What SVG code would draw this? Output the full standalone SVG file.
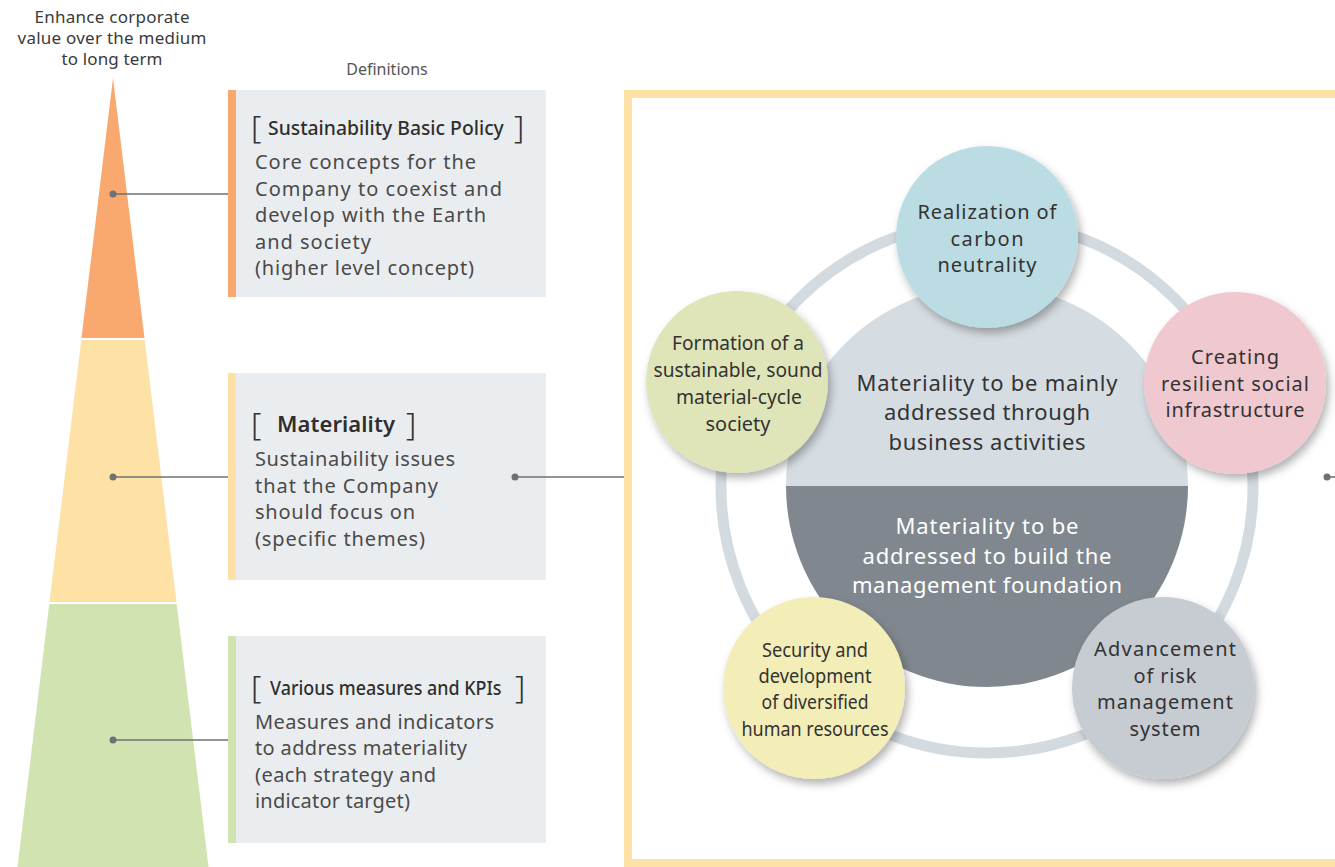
<svg xmlns="http://www.w3.org/2000/svg" width="1335" height="867" viewBox="0 0 1335 867">
<defs>
<style>
text{font-family:"Noto Sans","Open Sans","Liberation Sans",sans-serif;fill:#3a3a3a}
.top{font-size:17px;text-anchor:middle}
.def{font-size:16px;fill:#555;text-anchor:middle}
.brk{font-size:32px;font-weight:300;fill:#333}
.ttl{font-size:20px;font-weight:500;fill:#2f2f2f}
.ttl2{font-size:22px;font-weight:600;fill:#2f2f2f}
.body{font-size:20px;fill:#4a4a4a}
.c{font-size:20px;text-anchor:middle;fill:#333}
.cs{font-size:19px;text-anchor:middle;fill:#333}
.mid{font-size:22px;text-anchor:middle;fill:#333}
.midw{font-size:22px;text-anchor:middle;fill:#fff}
.box{fill:#eaedf0}
.ln{stroke:#6e7074;stroke-width:1.6;fill:none}
.dot{fill:#6e7074}
</style>
<filter id="sh" x="-20%" y="-20%" width="150%" height="150%">
<feDropShadow dx="3" dy="5" stdDeviation="4" flood-color="#000" flood-opacity="0.3"/>
</filter>
</defs>
<rect width="1335" height="867" fill="#fff"/>

<g id="goal">
<text class="top" x="112" y="23" textLength="155">Enhance corporate</text>
<text class="top" x="112" y="44" textLength="189">value over the medium</text>
<text class="top" x="112" y="65" textLength="101">to long term</text>
</g>

<g id="pyramid">
<polygon points="113,78 144.5,338 81.5,338" fill="#f9a86f"/>
<polygon points="81.3,340 144.7,340 176.5,602 49.5,602" fill="#fde1a5"/>
<polygon points="49.3,604 176.7,604 208.5,867 17.5,867" fill="#d0e3b0"/>
</g>

<text class="def" x="387" y="75">Definitions</text>

<g id="policy">
<rect class="box" x="228" y="90" width="318" height="207"/>
<rect x="228" y="90" width="8" height="207" fill="#f9a86f"/>
<text class="brk" x="251" y="138">[</text>
<text class="ttl" transform="translate(268,135) scale(0.88,1)" x="0" y="0" textLength="268" lengthAdjust="spacingAndGlyphs">Sustainability Basic Policy</text>
<text class="brk" x="514" y="138">]</text>
<text class="body" x="255" y="169" textLength="221">Core concepts for the</text>
<text class="body" x="255" y="196" textLength="247">Company to coexist and</text>
<text class="body" x="255" y="222" textLength="231">develop with the Earth</text>
<text class="body" x="255" y="249" textLength="116">and society</text>
<text class="body" x="255" y="275" textLength="219">(higher level concept)</text>
</g>

<g id="materiality">
<rect class="box" x="228" y="373" width="318" height="207"/>
<rect x="228" y="373" width="8" height="207" fill="#fde1a5"/>
<text class="brk" x="251" y="435">[</text>
<text class="ttl2" x="277" y="432" textLength="118">Materiality</text>
<text class="brk" x="406" y="435">]</text>
<text class="body" x="255" y="466" textLength="200">Sustainability issues</text>
<text class="body" x="255" y="493" textLength="183">that the Company</text>
<text class="body" x="255" y="519" textLength="160">should focus on</text>
<text class="body" x="255" y="546" textLength="170">(specific themes)</text>
</g>

<g id="measures">
<rect class="box" x="228" y="636" width="318" height="207"/>
<rect x="228" y="636" width="8" height="207" fill="#d0e3b0"/>
<text class="brk" x="251" y="698">[</text>
<text class="ttl" transform="translate(270,695) scale(0.88,1)" x="0" y="0" textLength="263" lengthAdjust="spacingAndGlyphs">Various measures and KPIs</text>
<text class="brk" x="515" y="698">]</text>
<text class="body" x="255" y="729" textLength="239">Measures and indicators</text>
<text class="body" x="255" y="755" textLength="212">to address materiality</text>
<text class="body" x="255" y="782" textLength="181">(each strategy and</text>
<text class="body" x="255" y="808" textLength="155">indicator target)</text>
</g>

<g id="frame">
<rect x="628" y="94" width="720" height="769" fill="none" stroke="#fde1a5" stroke-width="8"/>
</g>

<g id="ring">
<circle cx="987" cy="487" r="266" fill="none" stroke="#d3dbe0" stroke-width="11"/>
</g>

<g id="core">
<path d="M786,486 A201,201 0 0 1 1188,486 Z" fill="#d6dde2"/>
<path d="M786,486 A201,201 0 0 0 1188,486 Z" fill="#80878e"/>
<text class="mid" x="987" y="391" textLength="261">Materiality to be mainly</text>
<text class="mid" x="987" y="420" textLength="206">addressed through</text>
<text class="mid" x="987" y="450" textLength="197">business activities</text>
<text class="midw" x="987" y="534" textLength="183">Materiality to be</text>
<text class="midw" x="987" y="564" textLength="249">addressed to build the</text>
<text class="midw" x="987" y="593" textLength="270">management foundation</text>
</g>

<g id="carbon">
<circle cx="987" cy="237" r="91" fill="#bcdce3" filter="url(#sh)"/>
<text class="c" x="987" y="219" textLength="139">Realization of</text>
<text class="c" x="987" y="246" textLength="73">carbon</text>
<text class="c" x="987" y="272" textLength="99">neutrality</text>
</g>

<g id="infrastructure">
<circle cx="1235" cy="383" r="91" fill="#efc8d0" filter="url(#sh)"/>
<text class="c" x="1235" y="364" textLength="88">Creating</text>
<text class="c" x="1235" y="391" textLength="148">resilient social</text>
<text class="c" x="1235" y="417" textLength="139">infrastructure</text>
</g>

<g id="cycle">
<circle cx="737" cy="382" r="91" fill="#dfe5b8" filter="url(#sh)"/>
<text class="cs" x="738" y="350" textLength="132" lengthAdjust="spacingAndGlyphs">Formation of a</text>
<text class="cs" x="738" y="377" textLength="169" lengthAdjust="spacingAndGlyphs">sustainable, sound</text>
<text class="cs" x="739" y="404" textLength="126" lengthAdjust="spacingAndGlyphs">material-cycle</text>
<text class="cs" x="738" y="431" textLength="65" lengthAdjust="spacingAndGlyphs">society</text>
</g>

<g id="human">
<circle cx="814" cy="688" r="91" fill="#f3edb8" filter="url(#sh)"/>
<text class="cs" x="815" y="657" textLength="106" lengthAdjust="spacingAndGlyphs">Security and</text>
<text class="cs" x="815" y="683" textLength="113" lengthAdjust="spacingAndGlyphs">development</text>
<text class="cs" x="815" y="709" textLength="107" lengthAdjust="spacingAndGlyphs">of diversified</text>
<text class="cs" x="815" y="736" textLength="147" lengthAdjust="spacingAndGlyphs">human resources</text>
</g>

<g id="risk">
<circle cx="1163" cy="688" r="91" fill="#c6ccd2" filter="url(#sh)"/>
<text class="c" x="1165" y="656" textLength="142">Advancement</text>
<text class="c" x="1165" y="683" textLength="63">of risk</text>
<text class="c" x="1165" y="709" textLength="136">management</text>
<text class="c" x="1165" y="736" textLength="71">system</text>
</g>

<g id="connectors">
<line class="ln" x1="113" y1="194" x2="228" y2="194"/>
<circle class="dot" cx="113" cy="194" r="3.5"/>
<line class="ln" x1="113" y1="477" x2="228" y2="477"/>
<circle class="dot" cx="113" cy="477" r="3.5"/>
<line class="ln" x1="113" y1="740" x2="228" y2="740"/>
<circle class="dot" cx="113" cy="740" r="3.5"/>
<line class="ln" x1="515" y1="477" x2="624" y2="477"/>
<circle class="dot" cx="515" cy="477" r="3.5"/>
<line class="ln" x1="1327" y1="477" x2="1335" y2="477"/>
<circle class="dot" cx="1327" cy="477" r="3.5"/>
</g>
</svg>
